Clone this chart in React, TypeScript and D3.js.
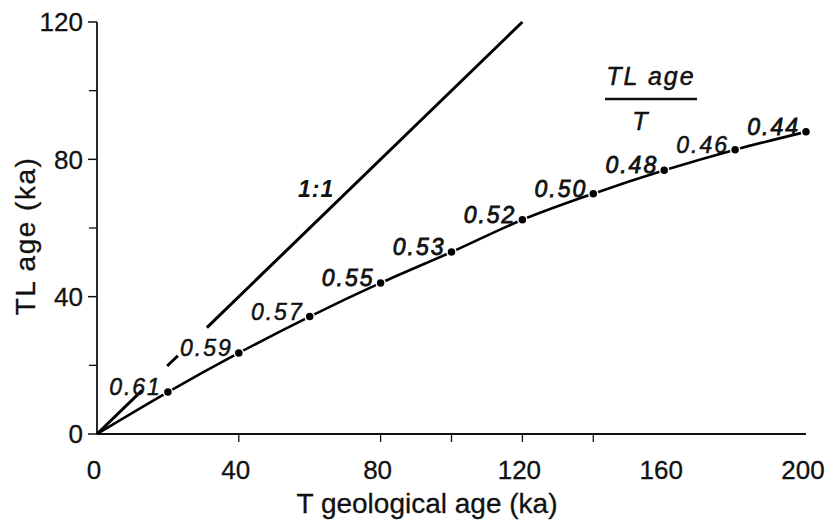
import React from "react";
import * as d3 from "d3";

// T geological age (ka) and TL age / T ratio
const geoAge = [20, 40, 60, 80, 100, 120, 140, 160, 180, 200];
const ratio = [0.61, 0.59, 0.57, 0.55, 0.53, 0.52, 0.5, 0.48, 0.46, 0.44];
const ratioLabels = ["0.61", "0.59", "0.57", "0.55", "0.53", "0.52", "0.50", "0.48", "0.46", "0.44"];
// TL age (ka)
const tlAge = [12.2, 23.6, 34.2, 44, 53, 62.4, 70, 76.8, 82.8, 88];

// 1:1 line pieces (broken around labels), in ka
const oneToOneSegments: [number, number][] = [
  [0, 12.7],
  [19.8, 22.8],
  [31, 120],
];

const xTickLabels = [0, 40, 80, 120, 160, 200];
const xTickMarks = [40, 80, 100, 120, 140];
const yTickLabels = [0, 40, 80, 120];
const yMinorTicks = [20, 60, 100];

// labels printed heavier in the original
const heavyLabels = new Set(["0.55", "0.53", "0.52", "0.50", "0.48", "0.44"]);

const W = 828;
const H = 521;
const FONT = "'Liberation Sans', Arial, Helvetica, sans-serif";

export default function App() {
  const x = d3.scaleLinear().domain([0, 200]).range([97, 806]);
  const y = d3.scaleLinear().domain([0, 120]).range([434, 22]);

  const pts: [number, number][] = [[0, 0], ...geoAge.map((g, i) => [g, tlAge[i]] as [number, number])];
  const line = d3
    .line<[number, number]>()
    .x((d) => x(d[0]))
    .y((d) => y(d[1]))
    .curve(d3.curveMonotoneX);

  return (
    <svg
      width={W}
      height={H}
      style={{ position: "absolute", left: 0, top: 0, background: "#fff" }}
      fontFamily={FONT}
    >
      <rect x={0} y={0} width={W} height={H} fill="#fff" />
      {/* axes */}
      <line x1={x(0)} x2={x(200)} y1={y(0)} y2={y(0)} stroke="#111" strokeWidth={2} />
      <line x1={x(0)} x2={x(0)} y1={y(0)} y2={y(120)} stroke="#111" strokeWidth={1.8} />
      {yTickLabels.map((t) => (
        <g key={"yt" + t}>
          <line x1={x(0) - 9} x2={x(0)} y1={y(t)} y2={y(t)} stroke="#111" strokeWidth={1.5} />
          <text x={83} y={y(t)} dy="0.36em" textAnchor="end" fontSize={26} fill="#111" stroke="#111" strokeWidth={0.3}>
            {t}
          </text>
        </g>
      ))}
      {yMinorTicks.map((t) => (
        <line key={"ym" + t} x1={x(0) - 8} x2={x(0)} y1={y(t)} y2={y(t)} stroke="#111" strokeWidth={1.3} />
      ))}
      {xTickMarks.map((t) => (
        <line key={"xm" + t} x1={x(t)} x2={x(t)} y1={y(0)} y2={y(0) + 8} stroke="#111" strokeWidth={1.3} />
      ))}
      {xTickLabels.map((t) => (
        <text key={"xt" + t} x={x(t) - 3} y={479} textAnchor="middle" fontSize={26} fill="#111" stroke="#111" strokeWidth={0.3}>
          {t}
        </text>
      ))}
      <text x={427} y={513} textAnchor="middle" fontSize={28} fill="#111" stroke="#111" strokeWidth={0.3}>
        T geological age (ka)
      </text>
      <text
        transform={`translate(35, 236) rotate(-90)`}
        textAnchor="middle"
        fontSize={28}
        letterSpacing={1.5}
        fill="#111"
        stroke="#111"
        strokeWidth={0.3}
      >
        TL age (ka)
      </text>

      {/* 1:1 line */}
      {oneToOneSegments.map((s, i) => (
        <line
          key={"s" + i}
          x1={x(s[0])}
          y1={y(s[0])}
          x2={x(s[1])}
          y2={y(s[1])}
          stroke="#000"
          strokeWidth={3}
        />
      ))}
      <text x={298} y={197} fontSize={23} fontStyle="italic" fontWeight="bold" letterSpacing={1} fill="#111">
        1:1
      </text>

      {/* TL age curve */}
      <path d={line(pts) ?? ""} fill="none" stroke="#000" strokeWidth={2.6} />
      {geoAge.map((g, i) => (
        <circle key={"p" + i} cx={x(g)} cy={y(tlAge[i])} r={4.5} fill="#000" stroke="#fff" strokeWidth={1.5} />
      ))}
      {geoAge.map((g, i) => (
        <text
          key={"l" + i}
          x={x(g) - 6}
          y={y(tlAge[i]) + 3}
          textAnchor="end"
          fontSize={23}
          fontStyle="italic"
          letterSpacing={2}
          fill="#111"
          stroke="#111"
          strokeWidth={heavyLabels.has(ratioLabels[i]) ? 0.8 : 0.5}
        >
          {ratioLabels[i]}
        </text>
      ))}

      {/* ratio legend */}
      <text x={651} y={85} textAnchor="middle" fontSize={25} fontStyle="italic" letterSpacing={2} fill="#111" stroke="#111" strokeWidth={0.5}>
        TL age
      </text>
      <line x1={605} x2={697} y1={99} y2={99} stroke="#111" strokeWidth={2.5} />
      <text x={640} y={130} textAnchor="middle" fontSize={25} fontStyle="italic" fill="#111" stroke="#111" strokeWidth={0.5}>
        T
      </text>
    </svg>
  );
}
